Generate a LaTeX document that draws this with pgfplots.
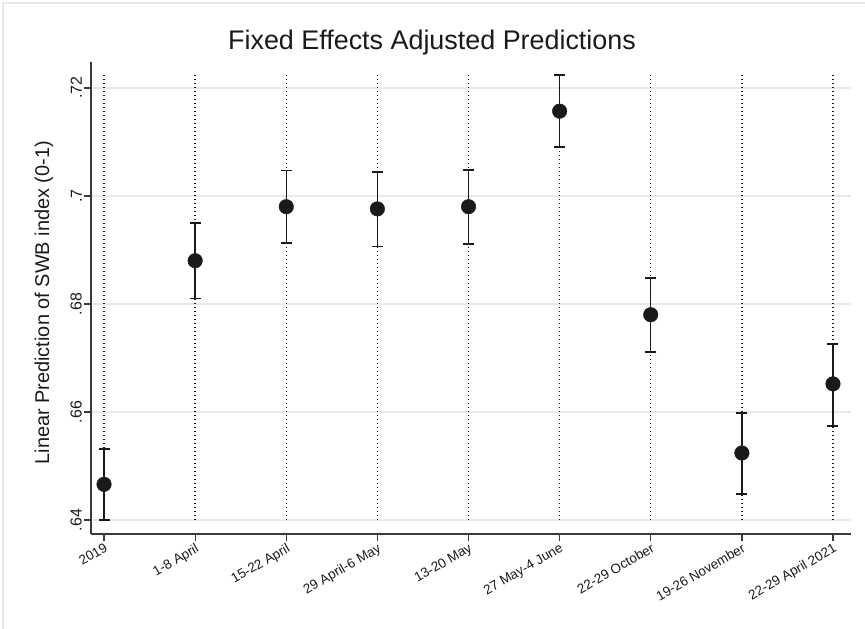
\documentclass[border=0pt]{standalone}
\usepackage{pgfplots}
\pgfplotsset{compat=1.18}
\usepackage{pgfplotstable}
\usepackage{fontspec}
\setmainfont{Liberation Sans}

\definecolor{ink}{HTML}{1A1A1A}
\definecolor{gridgray}{HTML}{E8E8E8}
\definecolor{axisgray}{HTML}{3A3A3A}
\definecolor{framegray}{HTML}{E6E6E6}

% point estimates with lower / upper confidence bounds
\pgfplotstableread{
x y      lo     hi
0 0.6466 0.6400 0.6531
1 0.6880 0.6810 0.6950
2 0.6980 0.6913 0.7047
3 0.6976 0.6906 0.7044
4 0.6980 0.6911 0.7048
5 0.7157 0.7091 0.7224
6 0.6780 0.6711 0.6848
7 0.6524 0.6448 0.6598
8 0.6652 0.6574 0.6726
}\predtable

\begin{document}
\begin{tikzpicture}[x=1bp,y=1bp]
\path[use as bounding box] (0,0) rectangle (865,629);
\draw[framegray, line width=1.2bp] (3,0) -- (3,626) -- (865,626);

\begin{axis}[
  at={(91bp,95bp)}, anchor=south west,
  width=760bp, height=472bp, scale only axis,
  xmin=-0.143, xmax=8.198, ymin=0.6374, ymax=0.7248,
  axis x line*=bottom, axis y line*=left,
  axis line style={axisgray, line width=1.3bp, -},
  xtick={0,...,8},
  xticklabels={2019, 1-8 April, 15-22 April, 29 April-6 May, 13-20 May,
               27 May-4 June, 22-29 October, 19-26 November, 22-29 April 2021},
  ytick={0.64,0.66,0.68,0.70,0.72},
  yticklabels={.64,.66,.68,.7,.72},
  tick align=outside, major tick length=7bp,
  tick style={axisgray, line width=1.3bp},
  ymajorgrids, grid style={gridgray, line width=1.2bp},
  xticklabel style={rotate=30, anchor=north east, inner sep=1bp,
                    font=\fontsize{13.5}{13.5}\selectfont, text=ink},
  yticklabel style={rotate=90, anchor=south, inner sep=2bp,
                    font=\fontsize{16}{16}\selectfont, text=ink},
  ylabel={Linear Prediction of SWB index (0-1)},
  ylabel style={at={(axis description cs:-0.062,0.49)}, anchor=center,
                font=\fontsize{20}{20}\selectfont, text=ink},
  clip=false,
]
% vertical reference lines at each period
\pgfplotsinvokeforeach{0,...,8}{
  \addplot[ink, line width=1.4bp, dash pattern=on 1bp off 3bp, forget plot]
    coordinates {(#1,0.6400) (#1,0.7224)};
}
% adjusted predictions with confidence intervals
\addplot[only marks, mark=*, mark size=7.3bp, ink,
  error bars/.cd, y dir=both, y explicit,
  error bar style={ink, line width=1.5bp},
  error mark=|, error mark options={ink, mark size=5.5bp, line width=1.5bp}]
  table[x=x, y=y,
        y error plus expr=\thisrow{hi}-\thisrow{y},
        y error minus expr=\thisrow{y}-\thisrow{lo}] {\predtable};
\end{axis}

\node[font=\fontsize{27}{27}\selectfont, text=ink] at (432,586) {Fixed Effects Adjusted Predictions};
\end{tikzpicture}
\end{document}
